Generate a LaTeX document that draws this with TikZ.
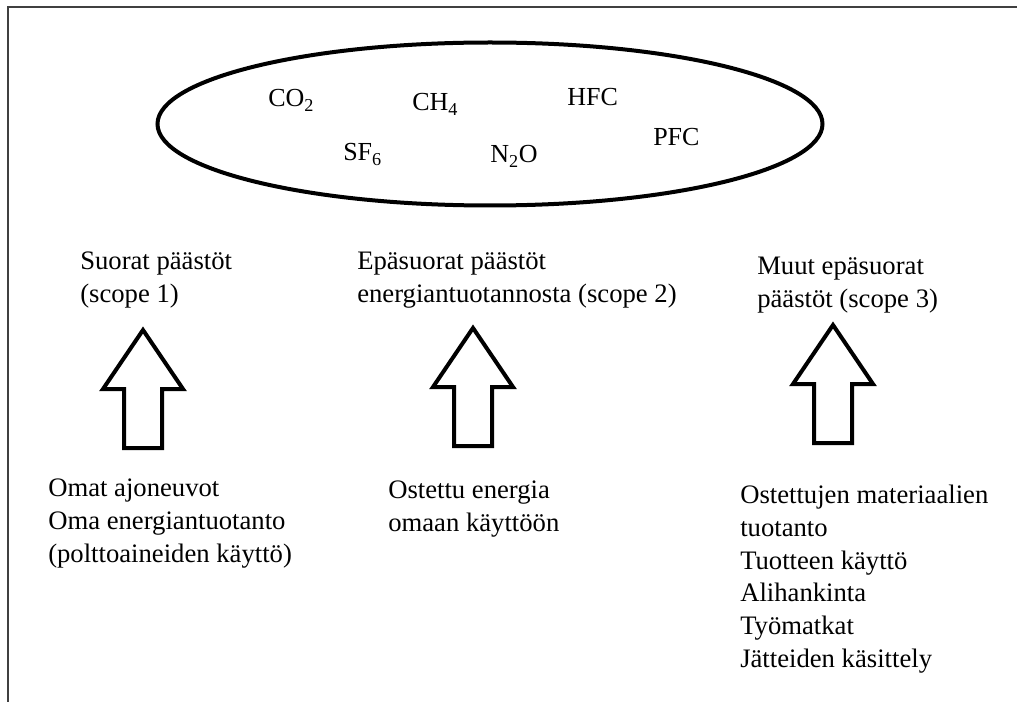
\documentclass[tikz,border=0pt]{standalone}
\usepackage{fontspec}
\setmainfont{Liberation Serif}
\usetikzlibrary{shapes.geometric}
\tikzset{
  txt/.style    = {align=left, inner sep=0pt, anchor=base west,
                   font=\fontsize{20}{24.5}\selectfont},
  gas/.style    = {inner sep=0pt, anchor=base west,
                   font=\fontsize{19.5}{24}\selectfont},
  cloud/.style  = {draw=black, ellipse, line width=3pt, inner sep=0pt,
                   minimum width=498.75pt, minimum height=122.25pt},
  frame/.style  = {draw=black!75, line width=1.5pt},
  uparr/.style  = {draw=black, line width=3pt, fill=white, line join=miter},
}

\begin{document}
\begin{tikzpicture}[x=0.75pt, y=-0.75pt]
  \useasboundingbox (0,0) rectangle (1017,702);
  \draw[frame] (8,702) -- (8,7) -- (1017,7);
  % greenhouse gases
  \node[cloud] (ghg) at (490,124) {};
  \node[gas] (co2) at (268,107) {CO\textsubscript{2}};
  \node[gas] (ch4) at (412,111) {CH\textsubscript{4}};
  \node[gas] (sf6) at (343,161) {SF\textsubscript{6}};
  \node[gas] (hfc) at (567,106) {HFC};
  \node[gas] (pfc) at (653,146) {PFC};
  \node[gas] (n2o) at (490,163) {N\textsubscript{2}O};
  % scopes (base = last line)
  \node[txt] (s1) at (80,302)  {Suorat päästöt\\(scope 1)};
  \node[txt] (s2) at (357,302) {Epäsuorat päästöt\\energiantuotannosta (scope 2)};
  \node[txt] (s3) at (757,307) {Muut epäsuorat\\päästöt (scope 3)};
  \foreach \x/\y in {143/330, 473/328, 833/325}{
    \draw[uparr] (\x,\y) -- ++(40,59) -- ++(-21,0) -- ++(0,59) -- ++(-38,0)
      -- ++(0,-59) -- ++(-21,0) -- cycle;
  }
  % sources
  \node[txt] (src1) at (48,562)  {Omat ajoneuvot\\Oma energiantuotanto\\(polttoaineiden käyttö)};
  \node[txt] (src2) at (388,531) {Ostettu energia\\omaan käyttöön};
  \node[txt] (src3) at (740,667) {Ostettujen materiaalien\\tuotanto\\Tuotteen käyttö\\Alihankinta\\Työmatkat\\Jätteiden käsittely};
\end{tikzpicture}
\end{document}
